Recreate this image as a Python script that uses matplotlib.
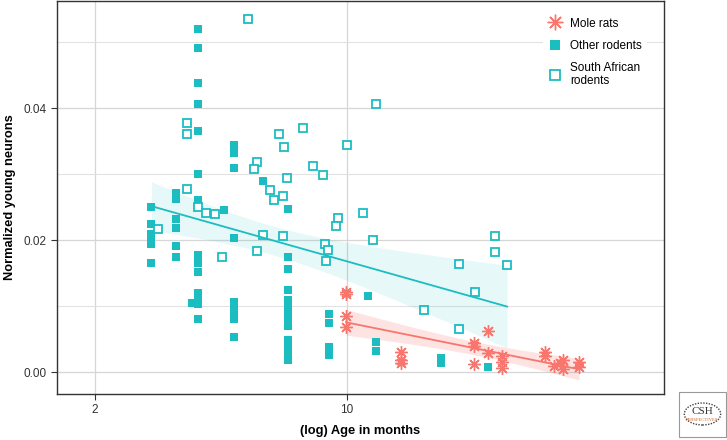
import numpy as np
import matplotlib
matplotlib.use('Agg')
import matplotlib.pyplot as plt
from matplotlib.patches import Rectangle, Circle

plt.rcParams['font.family'] = ['Liberation Sans', 'DejaVu Sans']

# Data: age in months, normalized young neurons
other_age = [2.87] * 6 + [3.36] * 6 + [3.87] * 15 + [3.72, 4.57] + [4.87] * 10 + \
    [5.86, 6.87] + [6.87] * 12 + [8.93] * 4 + [11.46, 12.06, 12.06, 18.26, 18.26, 24.66]
other_val = [0.0251, 0.0224, 0.0210, 0.0200, 0.0194, 0.0165,
             0.0272, 0.0263, 0.0233, 0.0219, 0.0191, 0.0175,
             0.0520, 0.0492, 0.0438, 0.0407, 0.0366, 0.0300, 0.0261, 0.0177,
             0.0170, 0.0165, 0.0152, 0.0120, 0.0110, 0.0103, 0.0080,
             0.0105, 0.0246,
             0.0345, 0.0332, 0.0309, 0.0204, 0.0107, 0.0101, 0.0095, 0.0088, 0.0081, 0.0054,
             0.0290, 0.0248,
             0.0175, 0.0157, 0.0125, 0.0110, 0.0099, 0.0090, 0.0079, 0.0070,
             0.0049, 0.0038, 0.0028, 0.0019,
             0.0089, 0.0074, 0.0038, 0.0026,
             0.0116, 0.0046, 0.0033, 0.0022, 0.0014, 0.0008]

sa_age = [5.32, 3.61, 3.61, 6.49, 5.64, 5.53, 3.61, 6.13, 6.28, 3.0, 3.87, 4.07, 4.31,
          4.51, 5.64, 5.86, 7.57, 6.70, 10.0, 12.06, 8.06, 8.60, 6.83, 6.66, 9.46, 9.34,
          11.1, 6.66, 11.83, 8.71, 8.88, 8.76, 25.79, 25.79, 27.84, 20.49, 22.70, 16.39, 20.49]
sa_val = [0.0535, 0.0377, 0.0361, 0.0361, 0.0318, 0.0308, 0.0278, 0.0276, 0.0261, 0.0217,
          0.0251, 0.0242, 0.0240, 0.0175, 0.0184, 0.0208, 0.0370, 0.0342, 0.0345, 0.0406,
          0.0313, 0.0299, 0.0294, 0.0267, 0.0234, 0.0221, 0.0241, 0.0206, 0.0200, 0.0194,
          0.0186, 0.0168, 0.0207, 0.0182, 0.0163, 0.0164, 0.0121, 0.0094, 0.0066]

mole_age = [9.96, 9.96, 9.96, 9.96, 14.15, 14.15, 14.15, 22.55, 22.55, 22.55, 24.66, 24.66,
            26.97, 26.97, 26.97, 35.49, 35.49, 37.58, 39.81, 39.05, 39.81, 44.1, 44.1]
mole_val = [0.0121, 0.0119, 0.0085, 0.0068, 0.0031, 0.0018, 0.0014, 0.0044, 0.0040, 0.0013,
            0.0063, 0.0029, 0.0025, 0.0016, 0.0006, 0.0031, 0.0024, 0.0010, 0.0019, 0.0014,
            0.0005, 0.0016, 0.0008]

teal = '#1BBDC1'
red = '#F8766D'


def lm_band(age, val, tcrit):
    """Linear fit on log10(age) with a confidence band"""
    x = np.log10(age)
    y = np.asarray(val)
    b, a = np.polyfit(x, y, 1)
    n = len(x)
    resid = y - (a + b * x)
    s = np.sqrt(np.sum(resid ** 2) / (n - 2))
    xs = np.linspace(x.min(), x.max(), 100)
    se = s * np.sqrt(1 / n + (xs - x.mean()) ** 2 / np.sum((x - x.mean()) ** 2))
    fit = a + b * xs
    return 10 ** xs, fit, fit - tcrit * se, fit + tcrit * se


fig = plt.figure(figsize=(7.27, 4.40), dpi=100)
ax = fig.add_axes([57 / 727, 46 / 440, 607 / 727, 393 / 440])
ax.set_xscale('log')
ax.set_xlim(1.569, 75.9)
ax.set_ylim(-0.00329, 0.05626)

# regression: teal line fitted to all non mole-rat rodents
xs, fit, lo, hi = lm_band(other_age + sa_age, other_val + sa_val, 1.98)
ax.fill_between(xs, lo, hi, color=teal, alpha=0.1, lw=0, zorder=2)
xs2, fit2, lo2, hi2 = lm_band(mole_age, mole_val, 2.08)
ax.fill_between(xs2, lo2, hi2, color=red, alpha=0.2, lw=0, zorder=2)

ax.plot(other_age, other_val, 's', color=teal, ms=6, mew=0, zorder=3, label='Other rodents')
ax.plot(sa_age, sa_val, 's', mfc='white', mec=teal, ms=6.2, mew=1.3, zorder=3,
        label='South African\nrodents')
ax.plot(mole_age, mole_val, marker=(8, 2, 0), ls='none', color=red, ms=9, mew=1.0, zorder=4,
        label='Mole rats')

ax.plot(xs, fit, color=teal, lw=1.3, zorder=5)
ax.plot(xs2, fit2, color=red, lw=1.3, zorder=5)

# axes styling
ax.set_xticks([2, 10])
ax.set_xticklabels(['2', '10'])
ax.xaxis.set_minor_locator(matplotlib.ticker.NullLocator())
ax.set_yticks([0.0, 0.02, 0.04])
ax.set_yticklabels(['0.00', '0.02', '0.04'])
ax.set_yticks([0.01, 0.03, 0.05], minor=True)
ax.grid(True, which='major', color='#d6d6d6', lw=0.9, zorder=0)
ax.grid(True, which='minor', axis='y', color='#e2e2e2', lw=0.8, zorder=0)
ax.set_axisbelow(True)
ax.tick_params(axis='both', which='major', labelsize=8.5, labelcolor='#333333',
               color='#333333', length=4, width=0.8)
ax.tick_params(axis='y', which='minor', length=0)
for sp in ax.spines.values():
    sp.set_color('#333333')
    sp.set_linewidth(1.0)

ax.set_xlabel('(log) Age in months', fontsize=9.3, fontweight='bold')
ax.set_ylabel('Normalized young neurons', fontsize=9.3, fontweight='bold')
ax.xaxis.set_label_coords(0.5, -0.095)
ax.yaxis.set_label_coords(-0.077, 0.5)
ax.xaxis.label.set_va('center')
ax.yaxis.label.set_va('center')

handles, labels = ax.get_legend_handles_labels()
order = [2, 0, 1]
leg = ax.legend([handles[i] for i in order], [labels[i] for i in order],
                loc='upper left', bbox_to_anchor=(537 / 727, 1 - 7 / 440),
                bbox_transform=fig.transFigure, frameon=True, fontsize=8.5,
                labelspacing=0.85, handletextpad=0.6, borderpad=0.4, handlelength=1.3,
                markerscale=1.25)
leg.get_frame().set_facecolor('white')
leg.get_frame().set_edgecolor('none')
leg.get_frame().set_alpha(1)

# journal logo
fig.patches.append(Rectangle((679 / 727, 3 / 440), 47 / 727, 45 / 440, transform=fig.transFigure,
                             fill=False, edgecolor='#999999', lw=0.8))
fig.patches.append(Circle((702.5 / 727, 26 / 440), 0.025, transform=fig.transFigure,
                          fill=False, edgecolor='#444444', lw=1.0, ls=(0, (1, 1))))
fig.text(702.5 / 727, 29 / 440, 'CSH', ha='center', va='center', fontsize=8,
         family='Liberation Serif', color='#333333')
fig.text(702.5 / 727, 20.5 / 440, 'PERSPECTIVES', ha='center', va='center', fontsize=3.3,
         family='Liberation Serif', color='#C8642C')

fig.savefig('out.png', dpi=100)
